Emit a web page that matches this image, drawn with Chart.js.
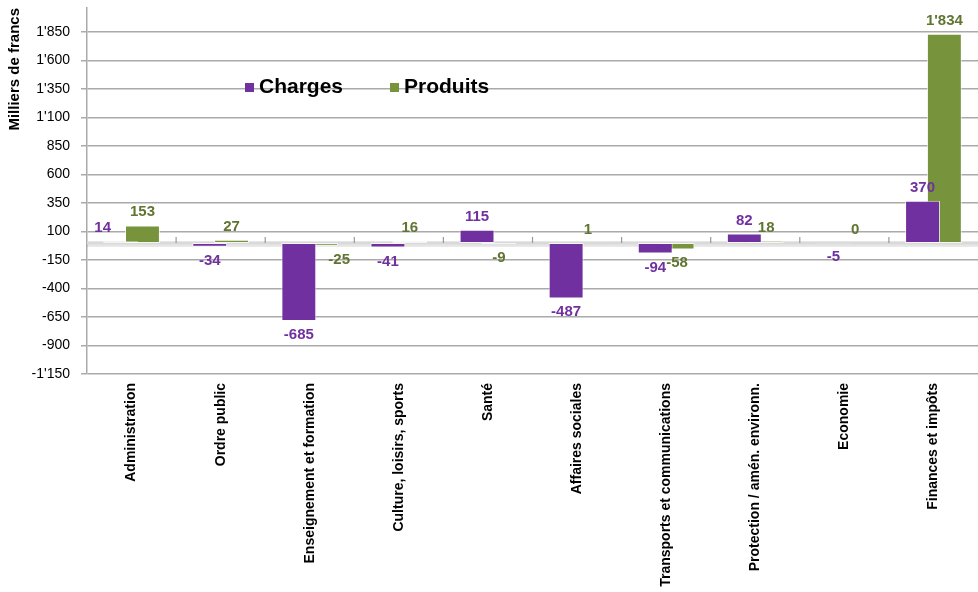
<!DOCTYPE html>
<html lang="fr">
<head>
<meta charset="utf-8">
<title>Charges et produits par fonction</title>
<script src="https://cdn.jsdelivr.net/npm/chart.js@4.4.1/dist/chart.umd.min.js"></script>
<style>
  html, body { margin: 0; padding: 0; background: #fff; overflow: hidden; }
  #wrap { width: 978px; height: 592px; }
</style>
</head>
<body>
<div id="wrap"><canvas id="ecarts" width="978" height="592"></canvas></div>
<script>
'use strict';

// ── Data ──────────────────────────────────────────────────────
const categories = [
  'Administration', 'Ordre public', 'Enseignement et formation',
  'Culture, loisirs, sports', 'Santé', 'Affaires sociales',
  'Transports et communications', 'Protection / amén. environn.',
  'Economie', 'Finances et impôts',
];
const charges  = [14, -34, -685, -41, 115, -487, -94, 82, -5, 370];
const produits = [153, 27, -25, 16, -9, 1, -58, 18, 0, 1834];

const yTicks = [-1150, -900, -650, -400, -150, 100, 350, 600, 850, 1100, 1350, 1600, 1850];
const Y_MIN  = -1150;
const Y_MAX  = 2060;

// ── Colours ───────────────────────────────────────────────────
const PURPLE      = '#7030A0';
const GREEN       = '#77933C';
const GREEN_TEXT  = '#5F7530';
const GRID        = '#AAAAAA';

Chart.defaults.font.family = "'Liberation Sans', Arial, sans-serif";
Chart.defaults.color = '#000';

// swiss thousands separator: 1'850
function fmt(v) {
  const s = Math.abs(v).toString().replace(/\B(?=(\d{3})+(?!\d))/g, "'");
  return (v < 0 ? '-' : '') + s;
}

function barRect(bar) {
  const w = bar.width / 2;
  return { l: bar.x - w, r: bar.x + w, t: Math.min(bar.y, bar.base), b: Math.max(bar.y, bar.base) };
}

// ── Plugin: zero floor, floor ticks, value labels, legend ─────
const decorations = {
  id: 'decorations',
  beforeDatasetsDraw(chart) {
    const { ctx, chartArea, scales: { x, y } } = chart;
    const y0 = y.getPixelForValue(0);
    ctx.save();
    // soft shadow under the floor
    ctx.fillStyle = 'rgba(0,0,0,0.10)';
    ctx.fillRect(chartArea.left, y0 + 1, chartArea.right - chartArea.left, 3);
    ctx.fillStyle = '#D9D9D9';
    ctx.fillRect(chartArea.left, y0 - 1.5, chartArea.right - chartArea.left, 3);

    ctx.strokeStyle = '#999';
    ctx.lineWidth = 1.2;
    for (let i = 1; i < categories.length; i++) {
      const bx = (x.getPixelForValue(i - 1) + x.getPixelForValue(i)) / 2;
      ctx.beginPath();
      ctx.moveTo(bx, y0 - 6);
      ctx.lineTo(bx, y0);
      ctx.stroke();
    }
    ctx.restore();
  },
  afterDatasetsDraw(chart) {
    const { ctx, chartArea } = chart;
    ctx.save();
    ctx.font = "bold 15px 'Liberation Sans', Arial, sans-serif";
    ctx.textAlign = 'center';
    ctx.textBaseline = 'alphabetic';
    const capH = 11;
    chart.data.datasets.forEach((ds, di) => {
      const meta  = chart.getDatasetMeta(di);
      const other = chart.getDatasetMeta(1 - di);
      ctx.fillStyle = di === 0 ? PURPLE : GREEN_TEXT;
      meta.data.forEach((bar, i) => {
        const v    = ds.data[i];
        const txt  = fmt(v);
        const tw   = ctx.measureText(txt).width;
        const own  = barRect(bar);
        let ty = v >= 0 ? own.t - 9 : own.b + 7 + capH;
        let tx = bar.x;
        // labels of very short bars step aside from the neighbouring bar
        const ob = barRect(other.data[i]);
        const small = own.b - own.t < capH;
        const hit = tx + tw / 2 > ob.l && tx - tw / 2 < ob.r && ty > ob.t && ty - capH < ob.b;
        if (small && hit) tx = di === 0 ? ob.l - tw / 2 - 14 : ob.r + tw / 2 + 12;
        ctx.fillText(txt, tx, ty);
      });
    });

    // legend inside the plot area
    const items = [
      { text: 'Charges',  color: PURPLE, dx: 158 },
      { text: 'Produits', color: GREEN,  dx: 303 },
    ];
    ctx.font = "bold 21px 'Liberation Sans', Arial, sans-serif";
    ctx.textAlign = 'left';
    items.forEach(it => {
      const lx = chartArea.left + it.dx;
      const ly = chartArea.top + 85;
      ctx.fillStyle = it.color;
      ctx.fillRect(lx, ly - 10, 9, 9);
      ctx.fillStyle = '#000';
      ctx.fillText(it.text, lx + 14, ly);
    });
    ctx.restore();
  },
};

// ── Chart ─────────────────────────────────────────────────────
const ctx = document.getElementById('ecarts').getContext('2d');

new Chart(ctx, {
  type: 'bar',
  data: {
    labels: categories,
    datasets: [
      {
        label: 'Charges',
        data: charges,
        backgroundColor: PURPLE,
        borderColor: 'rgba(255,255,255,0.7)',
        borderWidth: 1,
        borderSkipped: false,
      },
      {
        label: 'Produits',
        data: produits,
        backgroundColor: GREEN,
        borderColor: 'rgba(255,255,255,0.7)',
        borderWidth: 1,
        borderSkipped: false,
      },
    ],
  },
  options: {
    responsive: false,
    animation: false,
    categoryPercentage: 0.49,
    barPercentage: 1.6,
    layout: { padding: { top: 8, right: 0, bottom: 0, left: 0 } },
    plugins: {
      legend: { display: false },
      tooltip: { enabled: false },
    },
    scales: {
      x: {
        grid: { display: false, drawTicks: false },
        border: { display: false },
        ticks: {
          autoSkip: false,
          minRotation: 90,
          maxRotation: 90,
          padding: 9,
          color: '#000',
          font: { size: 14, weight: 'bold' },
        },
        afterFit(scale) { scale.height = 218; },
      },
      y: {
        min: Y_MIN,
        max: Y_MAX,
        ticks: {
          padding: 11,
          color: '#000',
          font: { size: 14 },
          callback: v => fmt(v),
        },
        afterBuildTicks(scale) {
          scale.ticks = yTicks.map(v => ({ value: v }));
        },
        afterFit(scale) {
          scale.width = 87;
          scale.paddingTop = 0;
          scale.paddingBottom = 0;
        },
        grid: {
          tickLength: 6,
          color: GRID,
          lineWidth: 1.5,
        },
        border: { display: true, color: GRID, width: 1.5 },
        title: {
          display: true,
          text: 'Milliers de francs',
          align: 'end',
          color: '#000',
          padding: { top: 6, bottom: 0 },
          font: { size: 15, weight: 'bold' },
        },
      },
    },
  },
  plugins: [decorations],
});
</script>
</body>
</html>
